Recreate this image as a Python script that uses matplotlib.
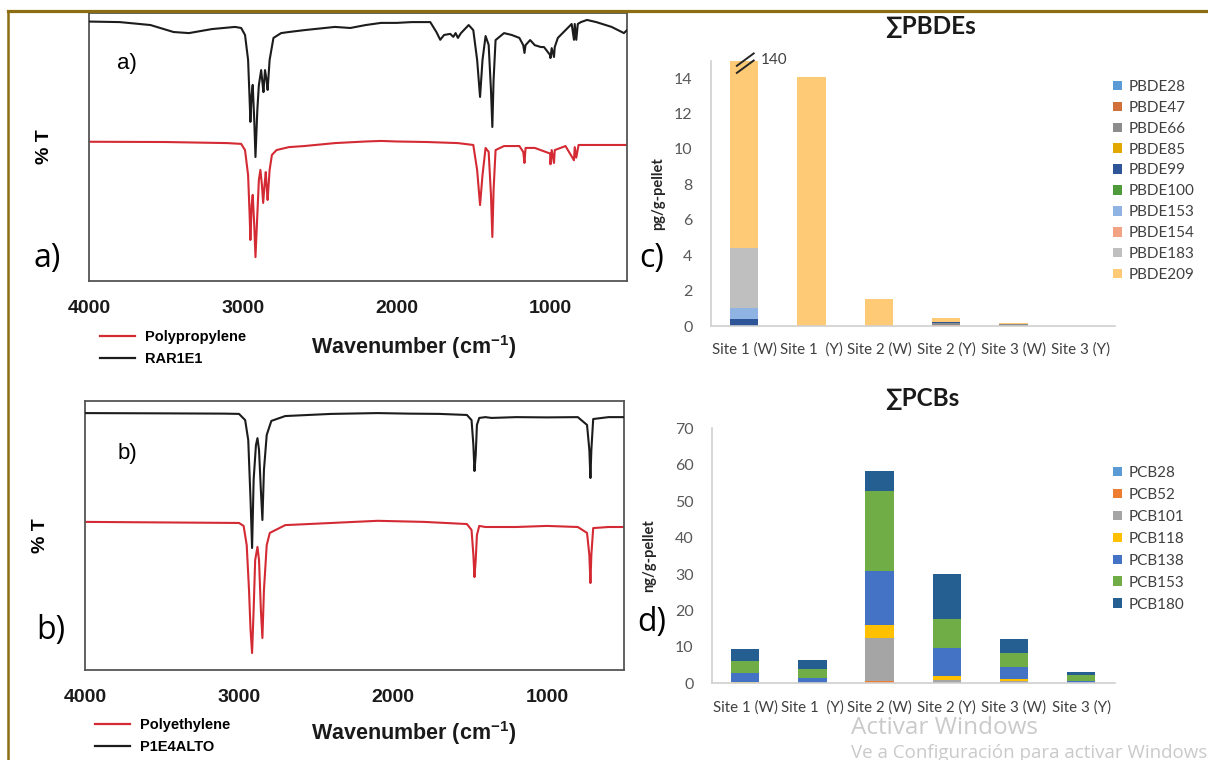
import matplotlib
matplotlib.use('Agg')
import matplotlib.pyplot as plt
from matplotlib.lines import Line2D
from matplotlib.patches import Patch
import numpy as np

plt.rcParams['mathtext.fontset'] = 'custom'
plt.rcParams['mathtext.rm'] = 'Liberation Sans'
plt.rcParams['mathtext.bf'] = 'Liberation Sans:bold'

# ---------------- data: FTIR spectra (wavenumber, %T arbitrary) ----------------
pp_sample_wn = [4000, 3800, 3600, 3450, 3350, 3200, 3050, 3010, 2985, 2965, 2955, 2950, 2942, 2935,
                2925, 2917, 2905, 2895, 2880, 2870, 2865, 2855, 2845, 2838, 2825, 2800, 2750, 2700,
                2600, 2400, 2300, 2200, 2100, 2000, 1900, 1780, 1740, 1715, 1690, 1650, 1630, 1615,
                1600, 1580, 1530, 1500, 1475, 1456, 1440, 1420, 1400, 1385, 1376, 1368, 1355, 1300,
                1250, 1200, 1175, 1167, 1160, 1130, 1100, 1060, 1040, 1000, 998, 990, 975, 970, 950,
                900, 860, 845, 840, 830, 820, 800, 760, 700, 600, 520, 500]
pp_sample_t = [96.7, 96.5, 95.4, 92.8, 92.4, 93.9, 94.7, 94.3, 91.7, 82.4, 67.5, 59.3, 69.4, 73.1,
               60.0, 46.2, 63.7, 73.0, 78.6, 73.0, 70.4, 78.6, 75.0, 71.2, 82.4, 90.6, 92.4, 92.8,
               93.5, 94.7, 94.3, 95.4, 96.2, 96.2, 96.5, 96.5, 92.8, 89.9, 91.7, 92.1, 91.0, 92.4,
               90.6, 92.4, 95.4, 93.5, 82.4, 68.6, 82.4, 91.3, 88.0, 71.2, 57.4, 74.9, 89.8, 92.4,
               91.7, 90.6, 87.9, 85.0, 87.9, 89.8, 87.9, 87.2, 87.2, 84.2, 83.1, 86.8, 83.5, 87.2, 90.6,
               93.5, 95.8, 89.9, 95.8, 89.9, 95.8, 96.5, 97.3, 96.5, 94.7, 92.4, 93.5]
pp_ref_wn = [4000, 3500, 3100, 3010, 2985, 2965, 2955, 2950, 2942, 2935, 2925, 2917, 2905, 2895,
             2885, 2875, 2867, 2858, 2850, 2845, 2838, 2825, 2810, 2780, 2700, 2600, 2400, 2200,
             2100, 2000, 1800, 1600, 1500, 1475, 1456, 1440, 1420, 1400, 1385, 1376, 1368, 1355,
             1300, 1200, 1175, 1167, 1160, 1100, 1000, 998, 990, 975, 970, 900, 845, 840, 830, 815,
             700, 600, 500]
pp_ref_t = [51.9, 51.8, 51.4, 51.1, 48.8, 39.5, 24.6, 15.3, 28.3, 32.1, 20.9, 8.9, 24.6, 37.6,
            41.4, 35.8, 29.1, 35.8, 40.6, 35.8, 30.2, 41.4, 47.0, 48.8, 49.9, 50.3, 51.4, 52.0,
            52.2, 52.0, 51.8, 51.4, 50.7, 41.4, 28.3, 39.5, 49.6, 48.1, 32.1, 16.4, 33.9, 48.8,
            50.3, 50.3, 48.1, 44.0, 49.6, 49.6, 47.5, 43.5, 48.8, 44.0, 48.8, 50.3, 45.0, 49.9,
            46.0, 50.7, 50.7, 50.7, 50.7]

pe_sample_wn = [4000, 3500, 3100, 3000, 2960, 2940, 2925, 2915, 2905, 2890, 2880, 2870, 2858, 2848,
                2838, 2820, 2790, 2700, 2400, 2100, 1900, 1700, 1520, 1490, 1478, 1471, 1463, 1455,
                1440, 1400, 1360, 1200, 1000, 800, 740, 725, 718, 712, 700, 600, 500]
pe_sample_t = [95.4, 95.3, 95.2, 95.1, 92.8, 85.4, 63.1, 45.3, 70.6, 83.5, 86.1, 81.7, 66.8, 55.7,
               74.3, 87.3, 92.5, 94.3, 95.1, 95.4, 95.2, 95.1, 94.7, 92.8, 83.5, 73.9, 79.8, 91.0,
               93.6, 93.9, 93.6, 93.9, 93.8, 93.9, 91.0, 81.7, 71.3, 81.7, 93.2, 93.9, 93.9]
pe_ref_wn = [4000, 3500, 3000, 2970, 2950, 2935, 2925, 2915, 2905, 2895, 2880, 2870, 2858, 2848,
             2838, 2820, 2800, 2700, 2400, 2100, 1800, 1520, 1490, 1478, 1471, 1463, 1455, 1440,
             1400, 1200, 1000, 800, 740, 725, 718, 712, 700, 600, 500]
pe_ref_t = [55.0, 54.8, 54.6, 53.5, 46.4, 29.7, 14.9, 6.3, 22.3, 40.8, 45.7, 40.8, 22.3, 11.9,
            29.7, 46.4, 50.9, 53.8, 54.6, 55.4, 55.0, 54.2, 52.0, 42.7, 34.5, 40.8, 50.1, 53.5,
            53.1, 53.1, 53.5, 53.1, 50.9, 42.7, 32.3, 42.7, 52.7, 53.1, 53.1]

wn_ticks = [4000, 3000, 2000, 1000]

# ---------------- data: stacked bars ----------------
sites = ['Site 1 (W)', 'Site 1  (Y)', 'Site 2 (W)', 'Site 2 (Y)', 'Site 3 (W)', 'Site 3 (Y)']

pbde_names = ['PBDE28', 'PBDE47', 'PBDE66', 'PBDE85', 'PBDE99', 'PBDE100',
              'PBDE153', 'PBDE154', 'PBDE183', 'PBDE209']
PBDE28 = [0, 0, 0, 0, 0, 0]
PBDE47 = [0, 0, 0, 0.04, 0.01, 0]
PBDE66 = [0, 0, 0, 0.15, 0.08, 0.02]
PBDE85 = [0, 0, 0, 0, 0.04, 0]
PBDE99 = [0.38, 0, 0, 0.03, 0, 0]
PBDE100 = [0, 0, 0, 0, 0, 0]
PBDE153 = [0.62, 0, 0, 0, 0, 0]
PBDE154 = [0, 0, 0, 0, 0, 0]
PBDE183 = [3.43, 0, 0, 0, 0, 0]
PBDE209 = [135.57, 14.05, 1.52, 0.23, 0.02, 0]
pbde_values = [PBDE28, PBDE47, PBDE66, PBDE85, PBDE99, PBDE100, PBDE153, PBDE154, PBDE183, PBDE209]
pbde_colors = ['#5B9BD5', '#D2703C', '#8C8C8C', '#E3A800', '#2E5597', '#4F9A3A',
               '#8FB4E3', '#F1A383', '#BFBFBF', '#FFCA75']

pcb_names = ['PCB28', 'PCB52', 'PCB101', 'PCB118', 'PCB138', 'PCB153', 'PCB180']
PCB28 = [0, 0.1, 0, 0, 0, 0]
PCB52 = [0, 0, 0.6, 0, 0, 0]
PCB101 = [0, 0, 11.7, 0.8, 0.5, 0]
PCB118 = [0.4, 0, 3.7, 1.2, 0.6, 0]
PCB138 = [2.5, 1.4, 14.8, 7.6, 3.3, 0.7]
PCB153 = [3.3, 2.4, 22.0, 8.15, 3.8, 1.7]
PCB180 = [3.3, 2.5, 5.6, 12.15, 3.9, 0.6]
pcb_values = [PCB28, PCB52, PCB101, PCB118, PCB138, PCB153, PCB180]
pcb_colors = ['#5B9BD5', '#ED7D31', '#A5A5A5', '#FFC000', '#4472C4', '#70AD47', '#255E91']

# ---------------- figure ----------------
W, H = 1208, 760
fig = plt.figure(figsize=(W / 100, H / 100), dpi=100)
fig.patch.set_facecolor('white')


def ax_px(l, t, r, b):
    return fig.add_axes([l / W, 1 - b / H, (r - l) / W, (b - t) / H])


def fx(x):
    return x / W


def fy(y):
    return 1 - y / H


RED = '#D42A33'
BLK = '#1c1c1c'
ARIAL = 'Liberation Sans'


def spectrum(ax, s_wn, s_t, r_wn, r_t, r_lab, s_lab, leg_xy):
    ax.plot(r_wn, r_t, color=RED, lw=1.5, zorder=2)
    ax.plot(s_wn, s_t, color=BLK, lw=1.5, zorder=3)
    ax.set_xlim(4000, 500)
    ax.set_ylim(0, 100)
    ax.set_xticks(wn_ticks)
    ax.set_xticklabels([str(t) for t in wn_ticks], fontweight='bold', fontsize=14,
                       family=ARIAL, color='#1a1a1a')
    ax.set_yticks([])
    ax.tick_params(axis='x', length=0, pad=14)
    for s in ax.spines.values():
        s.set_color('#555555')
        s.set_linewidth(1.3)
    ax.set_ylabel('% T', fontweight='bold', fontsize=14, family=ARIAL)
    ax.yaxis.set_label_coords(-36 / 538, 0.5)
    handles = [Line2D([], [], color=RED, lw=1.6), Line2D([], [], color=BLK, lw=1.6)]
    ax.legend(handles, [r_lab, s_lab], loc='upper left',
              bbox_to_anchor=(fx(leg_xy[0]), fy(leg_xy[1])), bbox_transform=fig.transFigure,
              frameon=False, prop={'family': ARIAL, 'weight': 'bold', 'size': 10.5},
              handlelength=2.4, handletextpad=0.7, labelspacing=0.55, borderpad=0,
              borderaxespad=0)


ax_a = ax_px(89, 12.7, 627, 281)
spectrum(ax_a, pp_sample_wn, pp_sample_t, pp_ref_wn, pp_ref_t, 'Polypropylene', 'RAR1E1', (100, 330))
ax_b = ax_px(85, 400.7, 624, 670)
spectrum(ax_b, pe_sample_wn, pe_sample_t, pe_ref_wn, pe_ref_t, 'Polyethylene', 'P1E4ALTO', (95, 718))

for ypx in (347, 733):
    fig.text(fx(414), fy(ypx), r'Wavenumber (cm$^{\mathbf{-1}}$)', ha='center', va='center',
             fontsize=15.5, fontweight='bold', family=ARIAL, color='#1a1a1a')

fig.text(fx(127), fy(63), 'a)', ha='center', va='center', fontsize=16, family=ARIAL)
fig.text(fx(127), fy(453), 'b)', ha='center', va='center', fontsize=16, family=ARIAL)

for lab, xp, yp in [('a)', 47, 259), ('b)', 51, 630), ('c)', 652, 259), ('d)', 652, 622)]:
    fig.text(fx(xp), fy(yp), lab, ha='center', va='center', fontsize=23, family='Open Sans')

LATO = ['Lato', 'DejaVu Sans']


def stacked(ax, values, names, colors, ymax, ystep, ylabel, ylab_x, leg_top, lspace):
    x = np.arange(len(sites))
    bottom = np.zeros(len(sites))
    handles = []
    for vals, name, c in zip(values, names, colors):
        ax.bar(x, vals, 0.42, bottom=bottom, color=c, linewidth=0, zorder=2)
        bottom = bottom + np.array(vals)
        handles.append(Patch(facecolor=c, edgecolor='none'))
    ax.set_xlim(-0.5, len(sites) - 0.5)
    ax.set_ylim(0, ymax)
    yt = np.arange(0, ymax + 0.01, ystep)
    ax.set_yticks(yt)
    ax.set_yticklabels([f'{v:g}' for v in yt], fontsize=11.5, family=LATO, color='#595959')
    ax.set_xticks(x)
    ax.set_xticklabels(sites, fontsize=10.8, family=LATO, color='#404040')
    ax.tick_params(axis='both', length=0)
    ax.tick_params(axis='y', pad=13)
    ax.tick_params(axis='x', pad=12)
    for side in ('top', 'right'):
        ax.spines[side].set_visible(False)
    for side in ('left', 'bottom'):
        ax.spines[side].set_color('#CFCFCF')
        ax.spines[side].set_linewidth(1.2)
    ax.set_ylabel(ylabel, fontsize=10.5, fontweight='bold', family=LATO, color='#262626')
    ax.yaxis.set_label_coords(ylab_x, 0.5)
    ax.legend(handles, names, loc='upper left', bbox_to_anchor=(fx(1113), fy(leg_top)),
              bbox_transform=fig.transFigure, frameon=False,
              prop={'family': LATO, 'size': 11}, labelcolor='#404040',
              handlelength=0.6, handleheight=0.6, handletextpad=0.4,
              labelspacing=lspace, borderpad=0, borderaxespad=0)
    return bottom


ax_c = ax_px(710.6, 60.5, 1114.6, 326)
tot_c = stacked(ax_c, pbde_values, pbde_names, pbde_colors, 15, 2, 'pg/g-pellet',
                -(710.6 - 665) / 404, 80, 0.45)
# axis-break marker and true total for the truncated bar
ymax_c = ax_c.get_ylim()[1]
for dy in (-0.25, 0.15):
    ax_c.plot([-0.11, 0.14], [ymax_c - 0.45 + dy, ymax_c + 0.25 + dy], color='#262626', lw=1.4,
              clip_on=False, zorder=5)
ax_c.text(0.25, ymax_c + 0.02, f'{tot_c[0]:.0f}', fontsize=11, family=LATO, color='#404040',
          va='center', ha='left', clip_on=False)

ax_d = ax_px(711.7, 428.3, 1114.6, 683.3)
stacked(ax_d, pcb_values, pcb_names, pcb_colors, 70, 10, 'ng/g-pellet',
        -(711.7 - 656) / 403, 466, 0.52)

fig.text(fx(931), fy(26), '∑PBDEs', ha='center', va='center', fontsize=17.5, fontweight='bold',
         family=LATO, color='#1a1a1a')
fig.text(fx(922), fy(398), '∑PCBs', ha='center', va='center', fontsize=17.5, fontweight='bold',
         family=LATO, color='#1a1a1a')

# watermark text visible in the screenshot (cut off at the right edge, as in the original)
fig.text(fx(851), fy(728), 'Activar Windows', ha='left', va='center', fontsize=17.5,
         family='Open Sans', color='#CACACA')
fig.text(fx(851), fy(753), 'Ve a Configuración para activar Windows', ha='left', va='center',
         fontsize=13.5, family='Open Sans', color='#CACACA')

# page border lines
BORDER = '#8C6D12'
fig.add_artist(Line2D([fx(8), 1], [fy(11), fy(11)], color=BORDER, lw=2.3, transform=fig.transFigure))
fig.add_artist(Line2D([fx(8), fx(8)], [fy(11), 0], color=BORDER, lw=1.8, transform=fig.transFigure))

fig.savefig('out.png', dpi=100, facecolor='white')
